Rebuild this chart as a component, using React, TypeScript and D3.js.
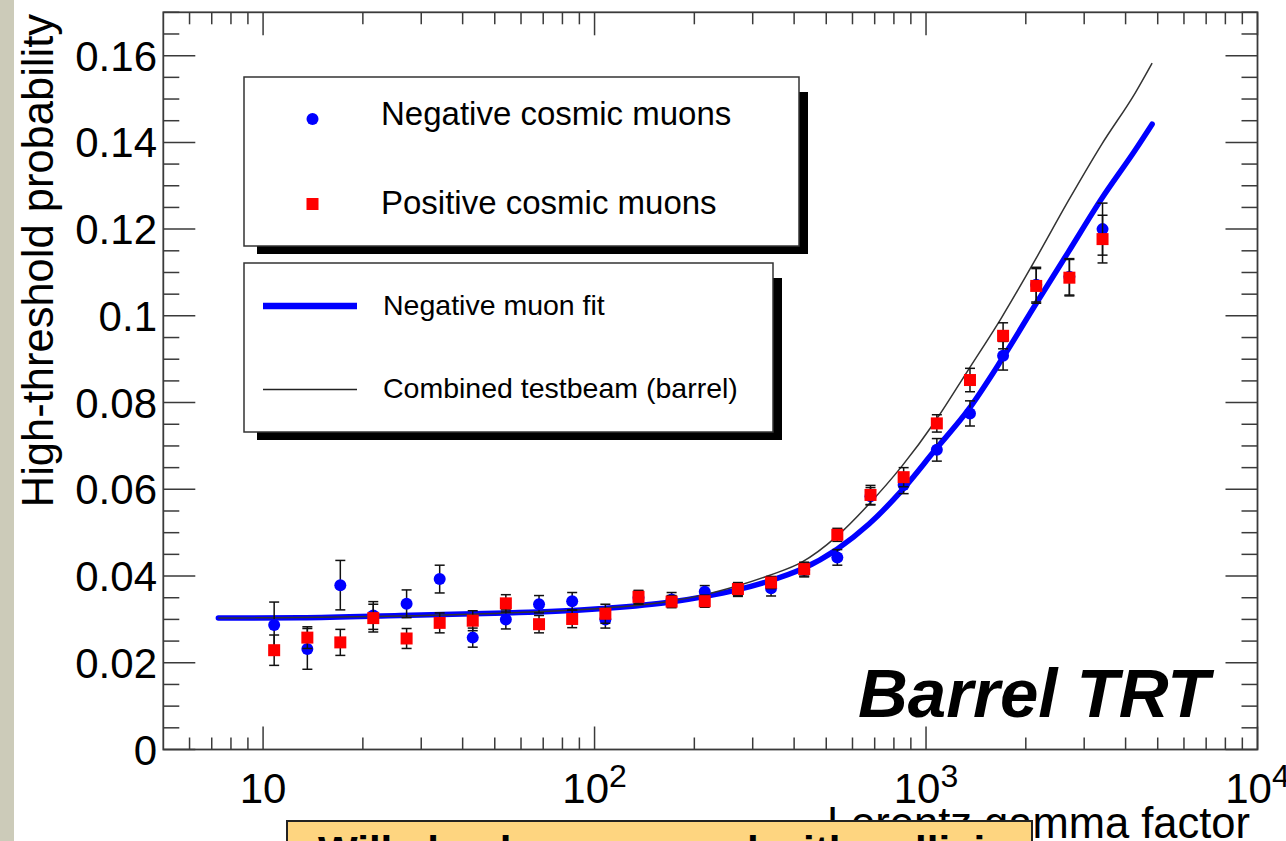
import React from "react";
import * as d3 from "d3";

// ---- data ----
const gammaPts = [10.8, 13.6, 17.1, 21.5, 27.1, 34.1, 42.9, 54.0, 68.0, 85.6, 107.8, 135.7, 170.8, 215, 270.7, 340.8, 429, 540, 680, 856, 1078, 1357, 1708, 2150, 2707, 3408];
const negValues = [0.0287, 0.0232, 0.0379, 0.0309, 0.0336, 0.0393, 0.0258, 0.0300, 0.0335, 0.0342, 0.0300, 0.0350, 0.0346, 0.0364, 0.0368, 0.0372, 0.0414, 0.0443, 0.0584, 0.0610, 0.0691, 0.0775, 0.0908, 0.1072, 0.1090, 0.1200];
const negErrors = [0.0053, 0.0047, 0.0057, 0.0032, 0.0032, 0.0032, 0.0022, 0.0022, 0.0020, 0.0020, 0.0020, 0.0015, 0.0016, 0.0014, 0.0015, 0.0018, 0.0016, 0.0018, 0.0020, 0.0020, 0.0026, 0.0029, 0.0033, 0.0040, 0.0042, 0.0060];
const posValues = [0.0229, 0.0258, 0.0247, 0.0303, 0.0256, 0.0292, 0.0297, 0.0337, 0.0289, 0.0301, 0.0313, 0.0352, 0.0341, 0.0342, 0.0370, 0.0385, 0.0416, 0.0495, 0.0587, 0.0628, 0.0752, 0.0852, 0.0954, 0.1069, 0.1088, 0.1177];
const posErrors = [0.0035, 0.0025, 0.0030, 0.0032, 0.0023, 0.0023, 0.0023, 0.0020, 0.0020, 0.0020, 0.0022, 0.0015, 0.0014, 0.0014, 0.0015, 0.0014, 0.0016, 0.0015, 0.0022, 0.0022, 0.0020, 0.0027, 0.0030, 0.0040, 0.0042, 0.0055];

const fitGamma = [7.33, 12.9, 25.9, 53.7, 73.4, 106, 170, 212, 269, 338, 422, 539, 673, 847, 1066, 1340, 1687, 2135, 2686, 3385, 4283, 4810];
const fitValues = [0.0303, 0.0304, 0.0309, 0.0315, 0.0318, 0.0325, 0.0340, 0.0352, 0.0368, 0.0389, 0.0416, 0.0462, 0.0520, 0.0598, 0.0691, 0.0783, 0.0898, 0.1025, 0.1147, 0.1270, 0.1383, 0.1442];

const tbGamma = [7.33, 25.9, 53.7, 106, 170, 212, 269, 338, 422, 539, 673, 847, 1066, 1340, 1687, 2135, 2686, 3385, 4283, 4810];
const tbValues = [0.0303, 0.0308, 0.0315, 0.0326, 0.0342, 0.0356, 0.0377, 0.0402, 0.0432, 0.0492, 0.0566, 0.0654, 0.0757, 0.0875, 0.0995, 0.1129, 0.1265, 0.1395, 0.1515, 0.1583];

const xMajorTicks = [10, 100, 1000, 10000];
const xMajorExponents = ["", "2", "3", "4"];
const yMajorTicks = [0, 0.02, 0.04, 0.06, 0.08, 0.1, 0.12, 0.14, 0.16];
const yTickLabels = ["0", "0.02", "0.04", "0.06", "0.08", "0.1", "0.12", "0.14", "0.16"];

const legendPoints = ["Negative cosmic muons", "Positive cosmic muons"];
const legendLines = ["Negative muon fit", "Combined testbeam (barrel)"];

const FONT = "'Liberation Sans', Arial, Helvetica, sans-serif";

export default function App() {
  const W = 1286, H = 841;
  const L = 163.3, R = 1257.5, T = 12.3, B = 749.5;
  const x = d3.scaleLog().domain([5, 10000]).range([L, R]);
  const y = d3.scaleLinear().domain([0, 0.17]).range([B, T]);

  const xMinor: number[] = [];
  for (let e = 0; e <= 3; e++) {
    for (let m = 2; m <= 9; m++) {
      const v = m * Math.pow(10, e);
      if (v > 5 && v < 10000) xMinor.push(v);
    }
  }
  const yMinor = d3.range(0, 0.1701, 0.005).filter((v) => Math.abs(Math.round(v / 0.02) * 0.02 - v) > 1e-6);

  const line = d3
    .line<[number, number]>()
    .x((d) => x(d[0]))
    .y((d) => y(d[1]))
    .curve(d3.curveMonotoneX);

  const fitPath = line(fitGamma.map((g, i) => [g, fitValues[i]]) as [number, number][]) || "";
  const tbPath = line(tbGamma.map((g, i) => [g, tbValues[i]]) as [number, number][]) || "";

  const axisColor = "#3a3a3a";

  const errBar = (g: number, v: number, e: number, key: string) => {
    const cx = x(g);
    return (
      <g key={key} stroke="#111" strokeWidth={1.5}>
        <line x1={cx} x2={cx} y1={y(v - e)} y2={y(v + e)} />
        <line x1={cx - 5} x2={cx + 5} y1={y(v - e)} y2={y(v - e)} />
        <line x1={cx - 5} x2={cx + 5} y1={y(v + e)} y2={y(v + e)} />
      </g>
    );
  };

  const lg1 = { x: 244, y: 77, w: 555, h: 169 };
  const lg2 = { x: 244, y: 263, w: 529, h: 169 };
  const note = { x: 287, y: 821, w: 745, h: 40 };

  return (
    <svg
      width={W}
      height={H}
      viewBox={`0 0 ${W} ${H}`}
      style={{ position: "absolute", left: 0, top: 0, background: "#fff" }}
      fontFamily={FONT}
    >
      <defs>
        <clipPath id="noteClip">
          <rect x={note.x} y={note.y} width={note.w} height={note.h} />
        </clipPath>
      </defs>
      <rect x={0} y={0} width={W} height={H} fill="#fff" />
      <rect x={0} y={0} width={14} height={H} fill="#cccbb9" />

      {/* curves */}
      <path d={fitPath} fill="none" stroke="#0000ff" strokeWidth={5.5} strokeLinecap="round" />
      <path d={tbPath} fill="none" stroke="#333" strokeWidth={1.5} />

      {/* negative points */}
      {gammaPts.map((g, i) => errBar(g, negValues[i], negErrors[i], "ne" + i))}
      {gammaPts.map((g, i) => (
        <circle key={"n" + i} cx={x(g)} cy={y(negValues[i])} r={6} fill="#0000ff" />
      ))}
      {/* positive points */}
      {gammaPts.map((g, i) => errBar(g, posValues[i], posErrors[i], "pe" + i))}
      {gammaPts.map((g, i) => (
        <rect key={"p" + i} x={x(g) - 6} y={y(posValues[i]) - 6} width={12} height={12} fill="#ff0000" />
      ))}

      {/* frame */}
      <rect x={L} y={T} width={R - L} height={B - T} fill="none" stroke={axisColor} strokeWidth={1.8} />

      {/* ticks */}
      <g stroke={axisColor} strokeWidth={1.5}>
        {xMajorTicks.map((v) => (
          <g key={"xM" + v}>
            <line x1={x(v)} x2={x(v)} y1={B} y2={B - 23} />
            <line x1={x(v)} x2={x(v)} y1={T} y2={T + 23} />
          </g>
        ))}
        {xMinor.map((v) => (
          <g key={"xm" + v}>
            <line x1={x(v)} x2={x(v)} y1={B} y2={B - 12} />
            <line x1={x(v)} x2={x(v)} y1={T} y2={T + 12} />
          </g>
        ))}
        {yMajorTicks.map((v) => (
          <g key={"yM" + v}>
            <line x1={L} x2={L + 32} y1={y(v)} y2={y(v)} />
            <line x1={R} x2={R - 32} y1={y(v)} y2={y(v)} />
          </g>
        ))}
        {yMinor.map((v) => (
          <g key={"ym" + v}>
            <line x1={L} x2={L + 16} y1={y(v)} y2={y(v)} />
            <line x1={R} x2={R - 16} y1={y(v)} y2={y(v)} />
          </g>
        ))}
      </g>

      {/* y tick labels */}
      {yMajorTicks.map((v, i) => (
        <text key={"yl" + v} x={157} y={y(v) + 15} textAnchor="end" fontSize={42} fill="#000">
          {yTickLabels[i]}
        </text>
      ))}

      {/* x tick labels */}
      {xMajorTicks.map((v, i) => (
        <text key={"xl" + v} x={x(v)} y={803} textAnchor="middle" fontSize={42} fill="#000">
          <tspan>10</tspan>
          {xMajorExponents[i] ? (
            <tspan fontSize={32} dy={-16}>
              {xMajorExponents[i]}
            </tspan>
          ) : null}
        </text>
      ))}

      {/* axis titles */}
      <text transform={`translate(53,14) rotate(-90)`} textAnchor="end" fontSize={43.5} fill="#000">
        High-threshold probability
      </text>
      <text x={1250} y={838} textAnchor="end" fontSize={43.5} fill="#000">
        Lorentz gamma factor
      </text>

      {/* Barrel TRT */}
      <text x={858} y={717} fontSize={69} fontWeight="bold" fontStyle="italic" fill="#000">
        Barrel TRT
      </text>

      {/* legend 1 */}
      <rect x={lg1.x + 13} y={lg1.y + 15} width={lg1.w - 4} height={lg1.h - 7} fill="#000" />
      <rect x={lg1.x} y={lg1.y} width={lg1.w} height={lg1.h} fill="#fff" stroke="#333" strokeWidth={1.5} />
      <circle cx={312.5} cy={119} r={6} fill="#0000ff" />
      <text x={381} y={125} fontSize={33} fill="#000">{legendPoints[0]}</text>
      <rect x={306.5} y={198} width={12} height={12} fill="#ff0000" />
      <text x={381} y={214} fontSize={33} fill="#000">{legendPoints[1]}</text>

      {/* legend 2 */}
      <rect x={lg2.x + 13} y={lg2.y + 15} width={lg2.w - 4} height={lg2.h - 7} fill="#000" />
      <rect x={lg2.x} y={lg2.y} width={lg2.w} height={lg2.h} fill="#fff" stroke="#333" strokeWidth={1.5} />
      <line x1={263} x2={357} y1={306} y2={306} stroke="#0000ff" strokeWidth={6.5} />
      <text x={383} y={315} fontSize={28.5} fill="#000">{legendLines[0]}</text>
      <line x1={263} x2={357} y1={389.5} y2={389.5} stroke="#222" strokeWidth={1.5} />
      <text x={383} y={398} fontSize={28.5} fill="#000">{legendLines[1]}</text>

      {/* overlapping note box (cut at the bottom of the page) */}
      <rect x={note.x} y={note.y} width={note.w} height={note.h} fill="#fed580" stroke="#222" strokeWidth={2} />
      <g clipPath="url(#noteClip)">
        <text x={318} y={866} fontSize={42} fontWeight="bold" fill="#000">
          Will also be measured with collisions
        </text>
      </g>
    </svg>
  );
}
